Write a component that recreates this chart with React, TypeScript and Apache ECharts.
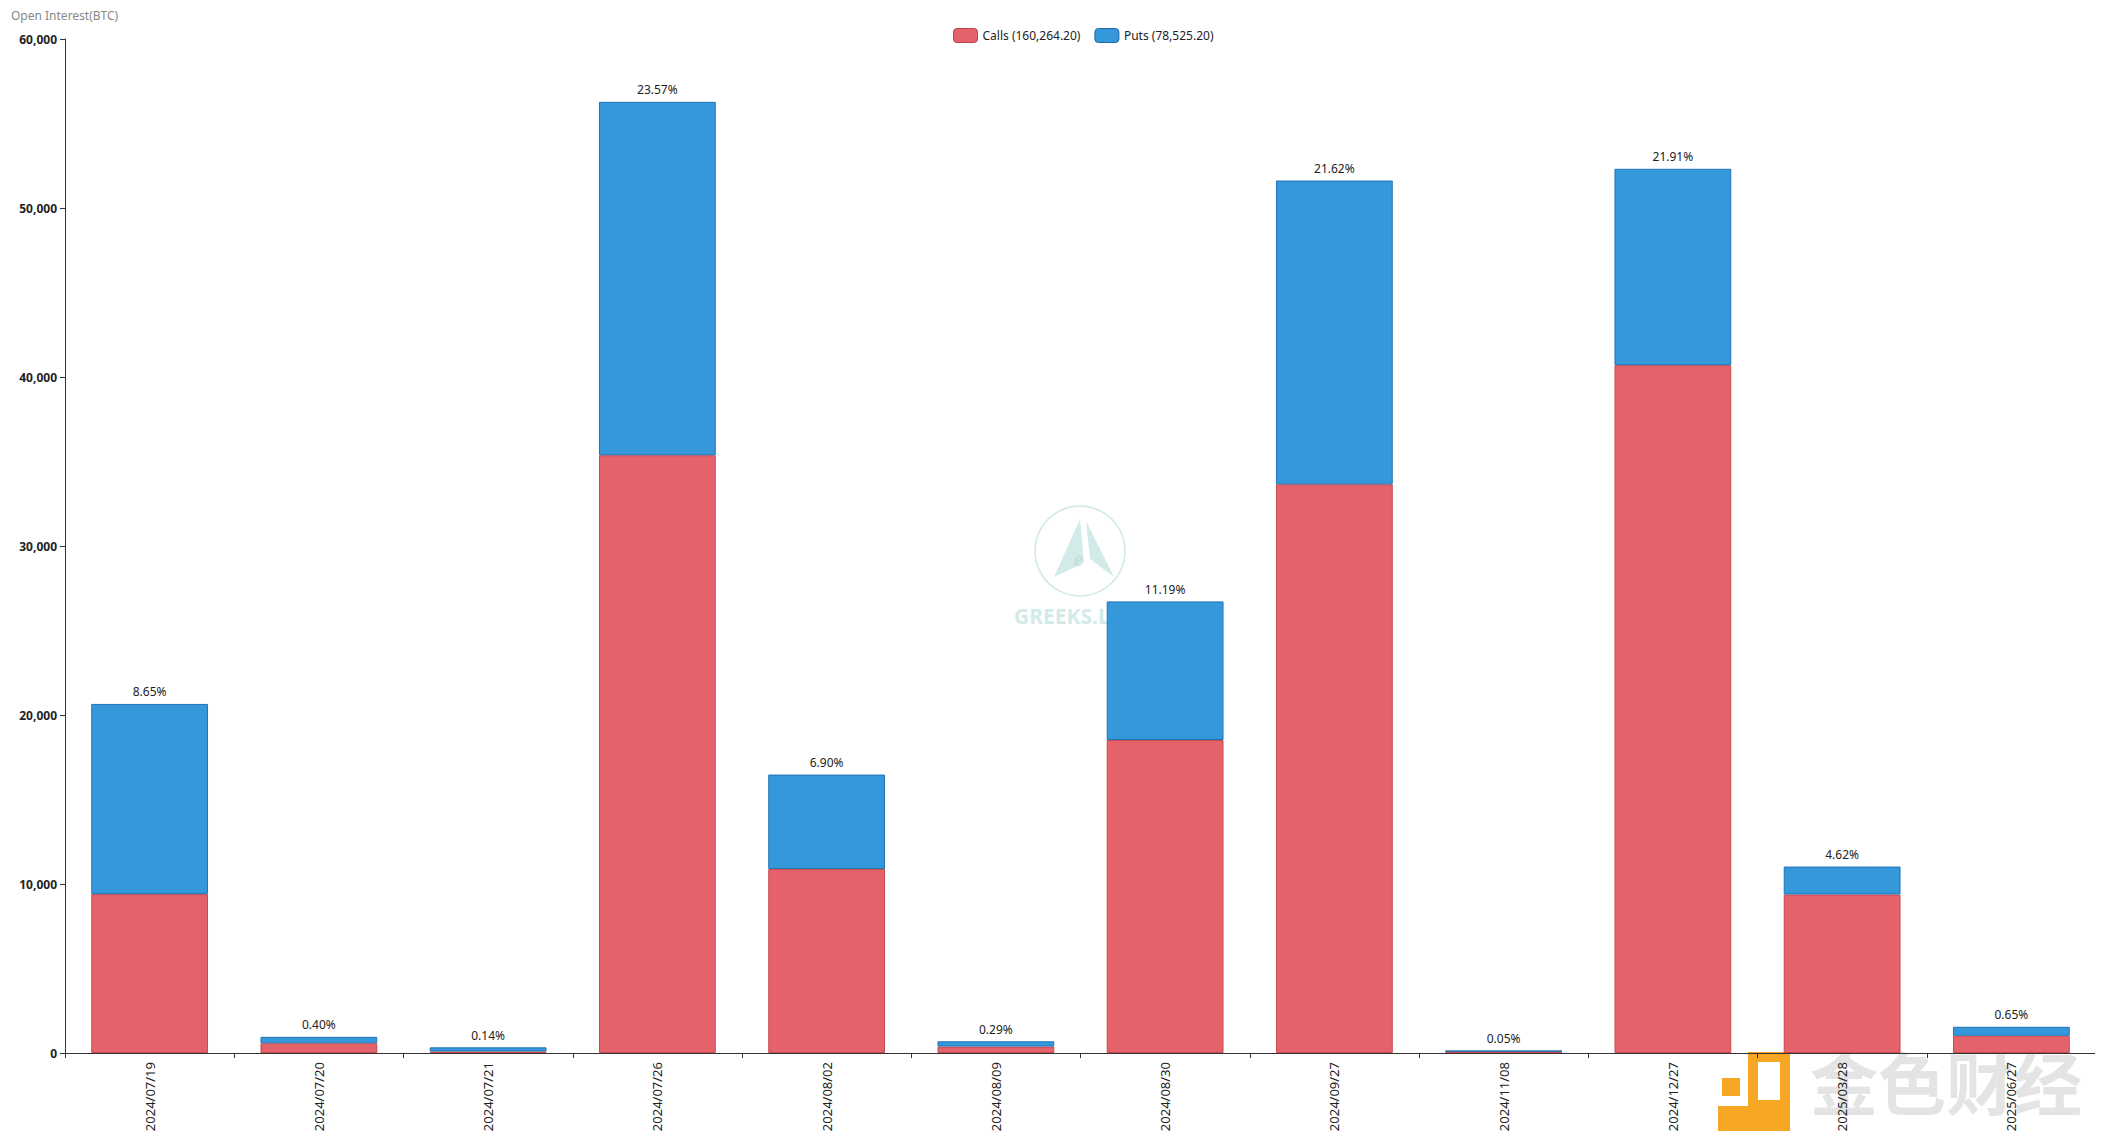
import React, { useEffect, useRef } from "react";
import * as echarts from "echarts";

const categories = [
  "2024/07/19", "2024/07/20", "2024/07/21", "2024/07/26", "2024/08/02", "2024/08/09",
  "2024/08/30", "2024/09/27", "2024/11/08", "2024/12/27", "2025/03/28", "2025/06/27",
];
const calls = [9400, 575, 90, 35370, 10890, 380, 18520, 33650, 115, 40700, 9380, 1020];
const puts = [11255, 380, 244, 20912, 5586, 312, 8201, 17976, 4, 11619, 1652, 532];
const shares = ["8.65%", "0.40%", "0.14%", "23.57%", "6.90%", "0.29%", "11.19%", "21.62%", "0.05%", "21.91%", "4.62%", "0.65%"];
const callsTotal = "160,264.20";
const putsTotal = "78,525.20";
const yTicks = { min: 0, max: 60000, interval: 10000 };

const FONT = "'Noto Sans', 'Open Sans', sans-serif";

export default function App() {
  const ref = useRef<HTMLDivElement>(null);
  useEffect(() => {
    if (!ref.current) return;
    const chart = echarts.init(ref.current, null, { renderer: "svg" });
    chart.setOption({
      animation: false,
      textStyle: { fontFamily: FONT },
      title: {
        text: "Open Interest(BTC)",
        left: 6,
        top: 4,
        textStyle: { fontSize: 12, fontWeight: "normal", color: "#888", fontFamily: FONT },
      },
      legend: {
        top: 23,
        left: 948,
        itemWidth: 24,
        itemHeight: 14,
        itemGap: 14,
        icon: "roundRect",
        textStyle: { fontSize: 12, color: "#222", fontFamily: FONT },
        data: [
          { name: "Calls", itemStyle: { color: "#e4626a", borderColor: "#b8434b", borderWidth: 1 } },
          { name: "Puts", itemStyle: { color: "#3498db", borderColor: "#1c6aa6", borderWidth: 1 } },
        ],
        formatter: (n: string) => (n === "Calls" ? `Calls (${callsTotal})` : `Puts (${putsTotal})`),
      },
      grid: { left: 65, right: 7, top: 39, bottom: 86, containLabel: false },
      xAxis: {
        type: "category",
        data: categories,
        axisLine: { lineStyle: { color: "#333" } },
        axisTick: { show: true, lineStyle: { color: "#333" } },
        axisLabel: { rotate: 90, fontSize: 13, color: "#222", margin: 9, fontFamily: FONT },
      },
      yAxis: {
        type: "value",
        min: yTicks.min,
        max: yTicks.max,
        interval: yTicks.interval,
        splitLine: { show: false },
        axisLine: { show: true, lineStyle: { color: "#333" } },
        axisTick: { show: true, lineStyle: { color: "#333" } },
        axisLabel: {
          fontSize: 12,
          fontWeight: "bold",
          color: "#222",
          fontFamily: FONT,
          formatter: (v: number) => v.toLocaleString("en-US"),
        },
      },
      series: [
        {
          name: "Calls",
          type: "bar",
          stack: "oi",
          barWidth: "69%",
          data: calls,
          itemStyle: { color: "#e4626a", borderColor: "#c94950", borderWidth: 1 },
        },
        {
          name: "Puts",
          type: "bar",
          stack: "oi",
          barWidth: "69%",
          data: puts,
          itemStyle: { color: "#3498db", borderColor: "#1f74b6", borderWidth: 1 },
          label: {
            show: true,
            position: "top",
            fontSize: 12,
            color: "#222",
            distance: 6,
            fontFamily: FONT,
            formatter: (p: any) => shares[p.dataIndex],
          },
        },
      ],
      graphic: [
        {
          type: "group",
          x: 1034,
          y: 505,
          silent: true,
          z: -1,
          children: [
            { type: "circle", shape: { cx: 46, cy: 46, r: 45 }, style: { fill: "none", stroke: "#cfe8e6", lineWidth: 1.5 } },
            { type: "polygon", shape: { points: [[46, 14], [20, 72], [50, 58]] }, style: { fill: "#d3ebe8" } },
            { type: "polygon", shape: { points: [[52, 16], [80, 72], [56, 54]] }, style: { fill: "#d3ebe8" } },
            { type: "text", x: 40, y: 44, style: { text: "e", fontSize: 20, fontStyle: "italic", fill: "#bcdcd8", fontFamily: "serif" } },
            { type: "text", x: -20, y: 100, style: { text: "GREEKS.LIVE", fontSize: 21, fontWeight: "bold", fill: "#d3ebe8", fontFamily: FONT } },
          ],
        },
        {
          type: "group",
          x: 1718,
          y: 1052,
          silent: true,
          children: [
            { type: "rect", shape: { x: 30, y: 0, width: 42, height: 80 }, style: { fill: "#f5a623" } },
            { type: "rect", shape: { x: 0, y: 54, width: 72, height: 26 }, style: { fill: "#f5a623" } },
            { type: "rect", shape: { x: 40, y: 10, width: 22, height: 38 }, style: { fill: "#fff" } },
            { type: "rect", shape: { x: 4, y: 26, width: 18, height: 18 }, style: { fill: "#f5a623" } },
            {
              type: "text",
              x: 92,
              y: -6,
              style: {
                text: "金色财经",
                fontSize: 68,
                fontWeight: "bold",
                fill: "rgba(225,225,225,0.9)",
                stroke: "rgba(255,255,255,0.9)",
                lineWidth: 2,
                fontFamily: "'Noto Sans CJK SC', sans-serif",
              },
            },
          ],
        },
      ],
    });
    return () => chart.dispose();
  }, []);
  return <div ref={ref} style={{ width: 2103, height: 1139, margin: -8 }} />;
}
